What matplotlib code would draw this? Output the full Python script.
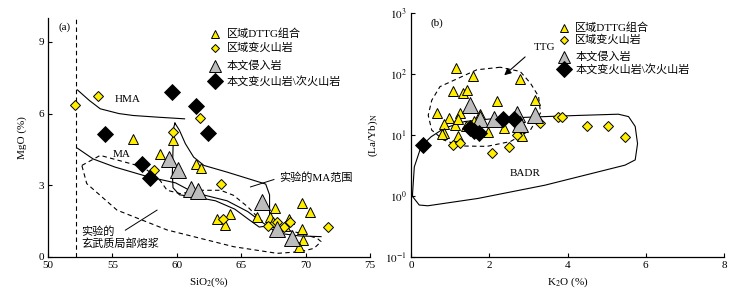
import numpy as np
import matplotlib
matplotlib.use("Agg")
import matplotlib.pyplot as plt

plt.rcParams['font.family'] = ['Liberation Serif', 'Noto Sans CJK SC']
plt.rcParams['mathtext.fontset'] = 'stix'
plt.rcParams['axes.unicode_minus'] = False

# ---------------- panel (a): SiO2 vs MgO ----------------
a_dttg_x = [56.6, 59.7, 58.7, 61.5, 61.9, 63.1, 63.7, 64.1, 66.2, 67.2, 67.6, 69.75,
            70.35, 68.7, 69.7, 69.8, 69.5, 67.5, 68.4]
a_dttg_y = [4.95, 4.9, 4.3, 3.9, 3.73, 1.6, 1.35, 1.8, 1.67, 1.68, 2.05, 2.25,
            1.88, 1.57, 1.18, 0.72, 0.42, 1.45, 1.3]
a_volc_x = [52.1, 53.9, 61.8, 59.7, 58.2, 63.45, 63.6, 67.1, 67.8, 68.3, 68.8, 71.75]
a_volc_y = [6.37, 6.75, 5.8, 5.22, 3.65, 3.07, 1.57, 1.29, 1.47, 1.27, 1.45, 1.24]
a_intr_x = [59.4, 60.1, 61.1, 61.65, 66.65, 67.75, 68.95]
a_intr_y = [4.1, 3.65, 2.86, 2.75, 2.28, 1.15, 0.8]
a_meta_x = [59.65, 61.45, 62.4, 54.4, 57.3, 57.9]
a_meta_y = [6.92, 6.32, 5.18, 5.13, 3.9, 3.32]

# field boundaries (a)
hma_x = [52.28, 53.2, 54.05, 55.5, 56.6, 58.5, 60.6]
hma_y = [6.99, 6.55, 6.2, 6.0, 5.92, 5.85, 5.78]
ma_x = [52.28, 53.5, 55.2, 57.8, 59.9, 61.3, 63.9, 65.5, 66.5, 67.8, 69.5, 71.2]
ma_y = [4.55, 4.1, 3.76, 3.35, 3.1, 2.7, 2.35, 1.9, 1.5, 1.0, 0.88, 0.85]
exp_ma_x = [59.85, 60.2, 60.66, 61.3, 62.1, 63.9, 66.0, 66.9, 67.2, 67.2, 67.0, 66.4,
            65.5, 64.5, 63.0, 61.5, 60.2, 59.7, 59.65, 59.7, 59.75, 59.85]
exp_ma_y = [5.6, 5.3, 4.74, 4.18, 3.83, 3.55, 3.2, 3.05, 2.6, 1.6, 1.3, 1.25,
            1.6, 2.0, 2.35, 2.5, 2.6, 2.9, 3.5, 4.5, 5.4, 5.6]
basalt_x = [52.62, 54.05, 57.4, 58.7, 59.24, 60.27, 61.8, 63.4, 64.4, 65.5, 66.5, 67.5,
            69.6, 70.9, 71.2, 70.65, 69.6, 67.8, 64.4, 59.24, 55.35, 53.0, 52.62]
basalt_y = [3.83, 4.25, 3.76, 3.2, 2.79, 2.65, 2.79, 2.79, 2.58, 2.1, 1.54, 1.26,
            0.99, 0.78, 0.64, 0.36, 0.22, 0.15, 0.43, 1.13, 1.96, 3.07, 3.83]

# ---------------- panel (b): K2O vs (La/Yb)N ----------------
b_dttg_x = [1.15, 1.58, 2.79, 1.07, 1.33, 1.44, 2.2, 3.18, 0.67, 0.96, 1.26, 1.77,
            0.85, 1.13, 1.77, 2.37, 2.79, 0.85, 1.19, 1.98, 2.84, 0.79, 1.21, 1.4, 1.62]
b_dttg_y = [124, 93, 82, 53, 49, 55, 36, 38, 23, 19, 23, 22,
            15, 14.5, 18, 13, 14, 10.7, 9.6, 11, 9.6, 10.3, 18, 14, 17]
b_volc_x = [1.07, 1.26, 2.07, 2.5, 2.72, 3.29, 3.76, 3.86, 4.49, 5.04, 5.47]
b_volc_y = [6.9, 7.4, 5.0, 6.3, 10.0, 15.5, 19.5, 19.5, 13.8, 13.8, 9.3]
b_intr_x = [1.5, 1.77, 2.11, 2.71, 2.79, 3.18]
b_intr_y = [31, 18, 18, 22, 15, 21.5]
b_meta_x = [0.3, 1.5, 1.62, 1.75, 2.34, 2.62]
b_meta_y = [6.9, 13.2, 11.7, 10.7, 18.5, 18.6]

badr_x = [0.26, 0.51, 0.85, 1.37, 2.14, 3.42, 4.27, 5.3, 5.56, 5.73, 5.79, 5.73, 5.47,
          3.42, 1.71, 0.43, 0.21, 0.04, 0.04, 0.085, 0.26]
badr_y = [6.5, 9.3, 12.9, 16.6, 18.6, 20.0, 20.9, 21.9, 20.0, 13.8, 7.2, 3.9, 3.2,
          1.5, 0.91, 0.69, 0.71, 0.98, 1.1, 3.0, 6.5]
ttg_x = [2.28, 1.68, 0.74, 0.53, 0.44, 0.53, 0.83, 1.26, 1.94, 2.54, 3.05, 3.31, 3.26,
         3.05, 2.79, 2.28]
ttg_y = [129, 117, 62, 37, 21, 12, 8.3, 6.6, 6.5, 7.8, 12, 23, 43, 71, 110, 129]

labels = ['区域DTTG组合', '区域变火山岩', '本文侵入岩', '本文变火山岩\\次火山岩']
yellow = '#FFEE00'
grey = '#BDBDBD'
fs = 8

fig = plt.figure(figsize=(7.4, 2.95), dpi=100)
ax1 = fig.add_axes([0.065, 0.129, 0.435, 0.81])
ax2 = fig.add_axes([0.5554, 0.129, 0.4230, 0.827])

for ax in (ax1, ax2):
    for s in ('top', 'right'):
        ax.spines[s].set_visible(False)
    ax.spines['left'].set_linewidth(0.9)
    ax.spines['bottom'].set_linewidth(0.9)
    ax.tick_params(direction='in', length=3, width=0.8, labelsize=fs, pad=3)

# ---- draw (a)
ax1.axvline(52.2, color='k', ls=(0, (4, 3)), lw=0.8)
ax1.plot(hma_x, hma_y, 'k-', lw=0.8)
ax1.plot(ma_x, ma_y, 'k-', lw=0.8)
ax1.plot(exp_ma_x, exp_ma_y, 'k-', lw=0.8)
ax1.plot(basalt_x, basalt_y, color='k', ls=(0, (4, 3)), lw=0.8)

ax1.plot(a_dttg_x, a_dttg_y, '^', ms=7.5, mfc=yellow, mec='k', mew=0.7, ls='none')
ax1.plot(a_volc_x, a_volc_y, 'D', ms=5, mfc=yellow, mec='k', mew=0.7, ls='none')
ax1.plot(a_intr_x, a_intr_y, '^', ms=11, mfc=grey, mec='k', mew=0.7, ls='none')
ax1.plot(a_meta_x, a_meta_y, 'D', ms=8.5, mfc='k', mec='k', mew=0.6, ls='none')

ax1.set_xlim(50, 75)
ax1.set_ylim(0, 10)
ax1.set_xticks([50, 55, 60, 65, 70, 75])
ax1.set_yticks([0, 3, 6, 9])
ax1.set_xlabel('SiO$_2$(%)', fontsize=fs, labelpad=4)
ax1.set_ylabel('MgO (%)', fontsize=fs, labelpad=8)

ax1.text(50.8, 9.6, '(a)', fontsize=fs, va='center')
ax1.text(56.2, 6.57, 'HMA', fontsize=fs, ha='center', va='center')
ax1.text(55.7, 4.29, 'MA', fontsize=fs, ha='center', va='center')
ax1.text(70.8, 3.33, '实验的MA范围', fontsize=fs, ha='center', va='center')
ax1.plot([67.54, 65.72], [3.24, 2.93], 'k-', lw=0.7)
ax1.text(52.55, 0.8, '实验的\n玄武质局部熔浆', fontsize=fs, ha='left', va='center',
         linespacing=1.15)
ax1.plot([56.0, 58.46], [1.12, 1.96], 'k-', lw=0.7)

# ---- draw (b)
ax2.set_yscale('log')
ax2.plot(badr_x, badr_y, 'k-', lw=0.8)
ax2.plot(ttg_x, ttg_y, color='k', ls=(0, (4, 3)), lw=0.8)

ax2.plot(b_dttg_x, b_dttg_y, '^', ms=7.5, mfc=yellow, mec='k', mew=0.7, ls='none')
ax2.plot(b_volc_x, b_volc_y, 'D', ms=5, mfc=yellow, mec='k', mew=0.7, ls='none')
ax2.plot(b_intr_x, b_intr_y, '^', ms=11, mfc=grey, mec='k', mew=0.7, ls='none')
ax2.plot(b_meta_x, b_meta_y, 'D', ms=8.5, mfc='k', mec='k', mew=0.6, ls='none')

ax2.set_xlim(0, 8)
ax2.set_ylim(0.1, 1000)
ax2.set_xticks([0, 2, 4, 6, 8])
ax2.set_yticks([0.1, 1, 10, 100, 1000])
ax2.set_yticklabels(['$10^{-1}$', '$10^{0}$', '$10^{1}$', '$10^{2}$', '$10^{3}$'])
ax2.minorticks_off()
ax2.set_xlabel('K$_2$O (%)', fontsize=fs, labelpad=4)
ax2.set_ylabel('(La/Yb)$_\\mathrm{N}$', fontsize=fs, labelpad=4)

ax2.text(0.5, 690, '(b)', fontsize=fs, va='center')
ax2.text(3.41, 275, 'TTG', fontsize=fs, ha='center', va='center')
ax2.annotate('', xy=(2.33, 89), xytext=(2.97, 204),
             arrowprops=dict(arrowstyle='-|>', color='k', lw=0.8, mutation_scale=10))
ax2.text(2.92, 2.35, 'BADR', fontsize=fs, ha='center', va='center')

# ---- legends drawn by hand (marker sizes differ per row)
def draw_legend(ax, x0, rows):
    styles = [('^', 6, yellow), ('D', 4, yellow), ('^', 9, grey), ('D', 8, 'k')]
    for (mk, ms, fc), lab, yy in zip(styles, labels, rows):
        ax.plot([x0], [yy], mk, ms=ms, mfc=fc, mec='k', mew=0.7,
                transform=ax.transAxes, clip_on=False)
        ax.text(x0 + 0.035, yy, lab, fontsize=fs, va='center', transform=ax.transAxes)

draw_legend(ax1, 0.52, [0.935, 0.875, 0.80, 0.735])
draw_legend(ax2, 0.49, [0.94, 0.89, 0.82, 0.77])

fig.savefig('out.png', dpi=100)
